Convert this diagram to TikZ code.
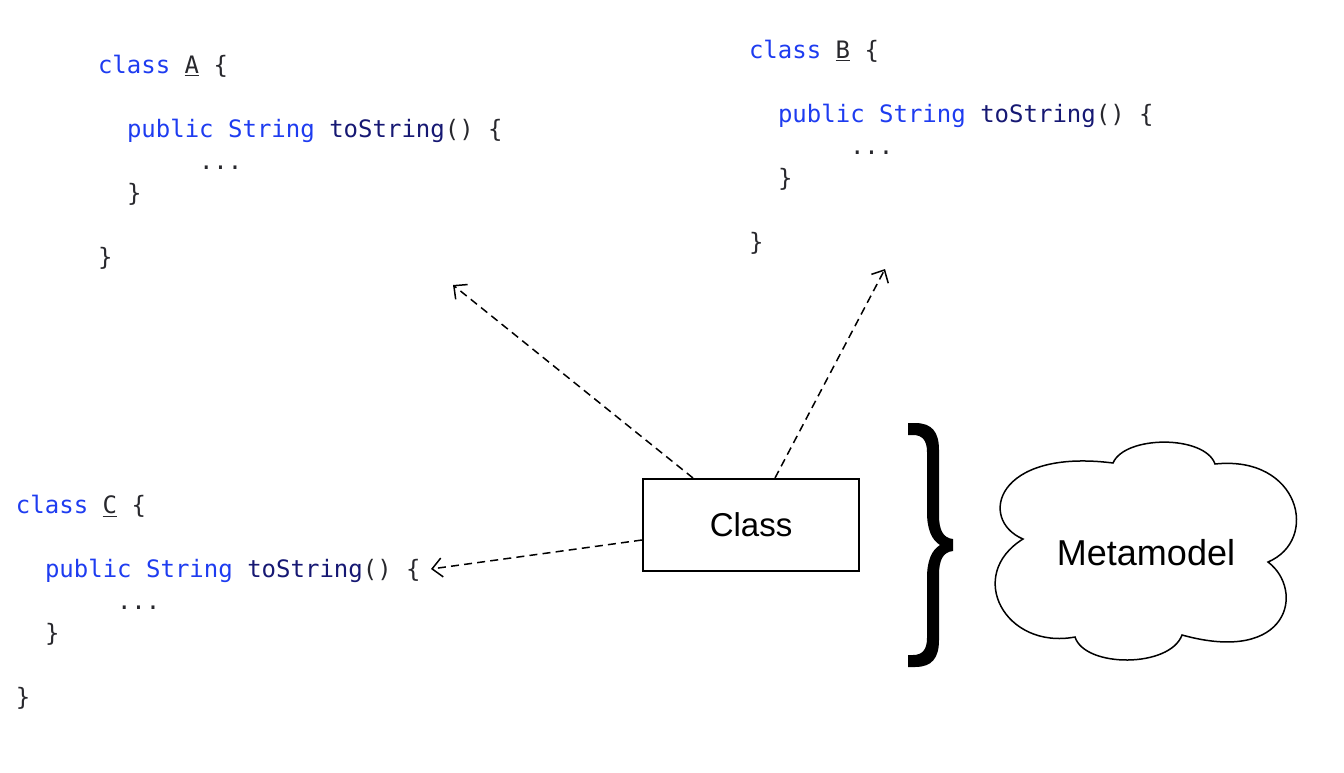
\documentclass[tikz,border=0pt]{standalone}
\usepackage{fontspec}
\setmainfont{Liberation Sans}
\newfontfamily\codefont{DejaVu Sans Mono}
\usetikzlibrary{arrows.meta,calc}
\definecolor{kwblue}{RGB}{30,60,240}
\definecolor{fnnavy}{RGB}{22,24,115}
\definecolor{codegray}{RGB}{40,40,45}
\newcommand{\kw}[1]{\textcolor{kwblue}{#1}}
\newcommand{\fn}[1]{\textcolor{fnnavy}{#1}}
\newcommand{\codeblock}[4]{%
  \node[codeline] (#1a) at (#2,#3) {\kw{class} \underline{#4} \{};
  \node[codeline] (#1b) at (#2+29,#3+64) {\kw{public} \kw{String} \fn{toString}() \{};
  \node[codeline] (#1c) at (#2+101,#3+96) {...};
  \node[codeline] (#1d) at (#2+29,#3+128) {\}};
  \node[codeline] (#1e) at (#2,#3+192) {\}};
}
\begin{document}
\begin{tikzpicture}[x=0.5pt,y=-0.5pt,
  codeline/.style={anchor=base west,inner sep=0pt,outer sep=0pt,
    font=\codefont\fontsize{12}{14}\selectfont,text=codegray},
  classbox/.style={draw,line width=1pt,minimum width=108pt,minimum height=46pt,
    inner sep=0pt,font=\fontsize{16.5}{18}\selectfont},
  dep/.style={dashed,dash pattern=on 4pt off 2.6pt,line width=0.75pt,
    -{Straight Barb[length=5pt,width=9.5pt]}},
  label/.style={inner sep=0pt,font=\fontsize{18}{20}\selectfont}]
\useasboundingbox (0,0) rectangle (1344,772);

\codeblock{A}{98}{73}{A}
\codeblock{B}{749}{58}{B}
\codeblock{C}{16}{513}{C}

\node[classbox] (cls) at (751,525) {Class};

\coordinate (tA) at (453,285);
\coordinate (tB) at (885,269);
\coordinate (tC) at (431,569);

\draw[dep] ($(cls.north)+(-58,0)$) -- (tA);
\draw[dep] ($(cls.north)+(24,0)$) -- (tB);
\draw[dep] ($(cls.west)+(0,15)$) -- (tC);

% curly brace
\fill (908,423) -- (915,423) .. controls (932,423) and (939,432) .. (939,450)
  -- (939,515) .. controls (939,530) and (943,538) .. (953,539)
  -- (953,551) .. controls (943,552) and (939,560) .. (939,575)
  -- (939,640) .. controls (939,658) and (932,667) .. (915,667)
  -- (908,667) -- (908,655) -- (913,655) .. controls (922,655) and (927,650) .. (927,638)
  -- (927,578) .. controls (927,560) and (932,550) .. (940,545)
  .. controls (932,540) and (927,530) .. (927,512)
  -- (927,452) .. controls (927,440) and (922,435) .. (913,435)
  -- (908,435) -- cycle;

% cloud
\draw[line width=0.75pt] (1023,539)
  .. controls (978,520) and (995,448) .. (1113,463)
  .. controls (1125,435) and (1205,435) .. (1215,464)
  .. controls (1300,455) and (1320,540) .. (1268,562)
  .. controls (1305,590) and (1290,665) .. (1182,635)
  .. controls (1170,668) and (1085,668) .. (1075,637)
  .. controls (1005,650) and (965,575) .. (1023,539) -- cycle;
\node[label] (meta) at (1146,553) {Metamodel};
\end{tikzpicture}
\end{document}
